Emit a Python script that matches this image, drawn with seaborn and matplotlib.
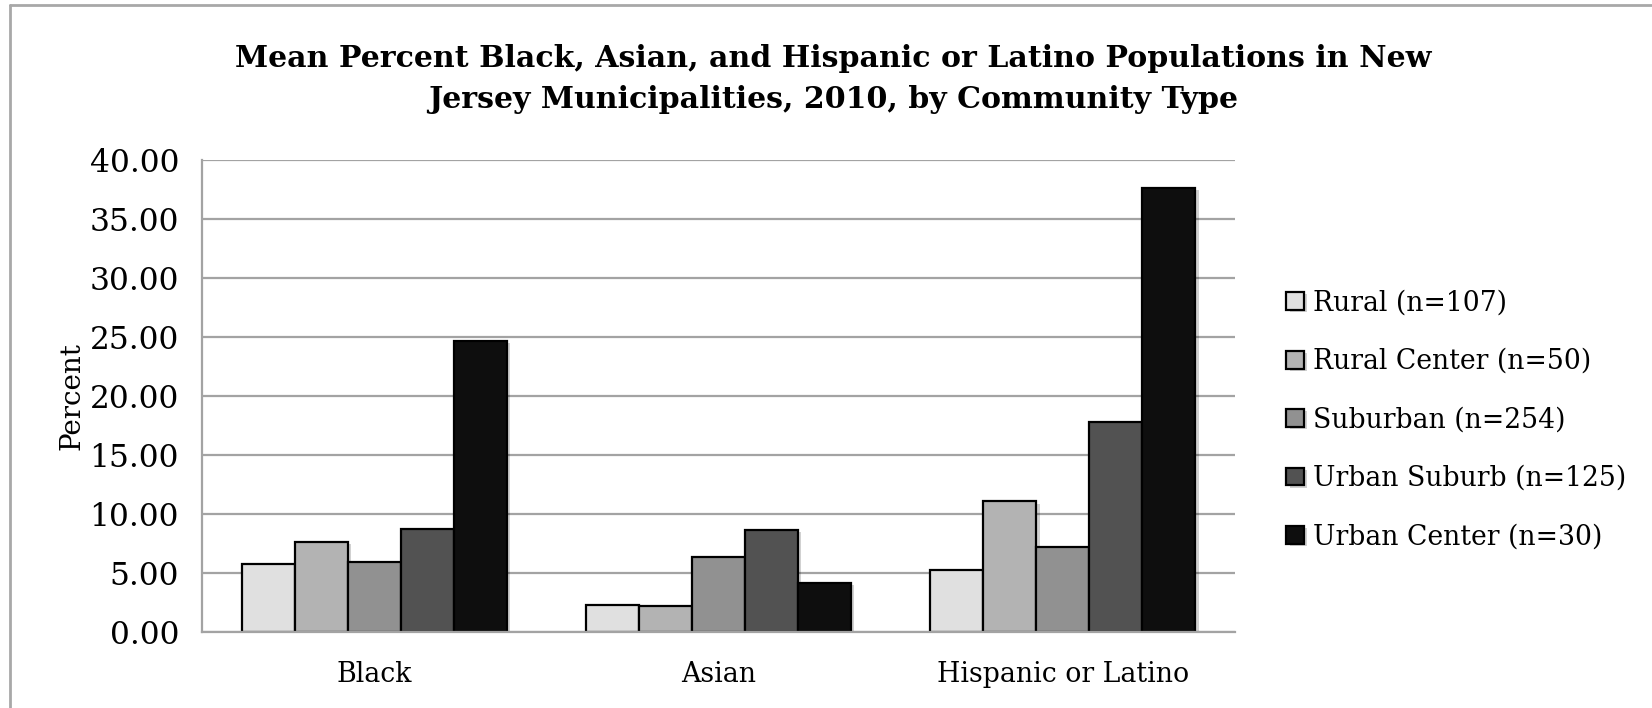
import matplotlib
matplotlib.use("Agg")
import matplotlib.pyplot as plt
import matplotlib.patheffects as pe
from matplotlib.lines import Line2D
import seaborn as sns
import pandas as pd

# Mean percent of each population group, by community type
groups = ["Black", "Asian", "Hispanic or Latino"]
community_types = [
    "Rural (n=107)",
    "Rural Center (n=50)",
    "Suburban (n=254)",
    "Urban Suburb (n=125)",
    "Urban Center (n=30)",
]
rural = [5.70, 2.29, 5.19]
rural_center = [7.59, 2.17, 11.03]
suburban = [5.90, 6.35, 7.14]
urban_suburb = [8.72, 8.64, 17.78]
urban_center = [24.61, 4.12, 37.62]

shades = ["#e0e0e0", "#b3b3b3", "#919191", "#525252", "#0e0e0e"]
y_ticks = [0, 5, 10, 15, 20, 25, 30, 35, 40]

series = [rural, rural_center, suburban, urban_suburb, urban_center]
rows = []
for ctype, vals in zip(community_types, series):
    for g, v in zip(groups, vals):
        rows.append({"Group": g, "Type": ctype, "Percent": v})
df = pd.DataFrame(rows)

sns.set_theme(style="white")
plt.rcParams["font.family"] = ["DejaVu Serif"]
plt.rcParams["text.color"] = "black"
plt.rcParams["axes.labelcolor"] = "black"

W, H = 1652, 708
fig = plt.figure(figsize=(W / 100, H / 100), dpi=100)
fig.patch.set_facecolor("white")
ax = fig.add_axes([202 / W, 1 - 631.7 / H, (1235 - 202) / W, (631.7 - 159.5) / H])

sns.barplot(
    data=df, x="Group", y="Percent", hue="Type",
    order=groups, hue_order=community_types, palette=shades,
    width=0.769, gap=0, errorbar=None, edgecolor="black", linewidth=1.6,
    ax=ax,
)
for bar in ax.patches:
    bar.set_path_effects([
        pe.SimplePatchShadow(offset=(2.5, -1.5), shadow_rgbFace="#000000", alpha=0.18),
        pe.Normal(),
    ])

ax.set_xlim(-0.5, 2.5)
ax.set_ylim(0, 40)
ax.set_yticks(y_ticks)
ax.set_yticklabels([f"{t:.2f}" for t in y_ticks])
ax.yaxis.grid(True, color="#a3a3a3", linewidth=1.6)
ax.set_axisbelow(True)
for side in ["top", "right"]:
    ax.spines[side].set_visible(False)
for side in ["left", "bottom"]:
    ax.spines[side].set_color("#a3a3a3")
    ax.spines[side].set_linewidth(1.6)
ax.tick_params(axis="y", which="major", length=7, width=1.6, color="#a3a3a3",
               labelsize=22.5, pad=9.5, labelcolor="black")
ax.tick_params(axis="x", length=0, labelsize=19.3, pad=21, labelcolor="black")
ax.set_xlabel("")
ax.set_ylabel("Percent", fontsize=20, color="black", labelpad=3)

handles, labels = ax.get_legend_handles_labels()
leg = ax.legend(
    handles, labels, loc="center left",
    bbox_to_anchor=(1273 / W, 1 - 420 / H), bbox_transform=fig.transFigure,
    frameon=False, fontsize=19.2, handlelength=0.65, handleheight=0.65,
    handletextpad=0.35, labelspacing=1.18, borderpad=0,
)
for t in leg.get_texts():
    t.set_color("black")

fig.text(
    833.5 / W, 1 - 79 / H,
    "Mean Percent Black, Asian, and Hispanic or Latino Populations in New\n"
    "Jersey Municipalities, 2010, by Community Type",
    ha="center", va="center", fontsize=21.6, fontweight="bold", linespacing=1.5,
    color="black",
)

# chart-area frame
fig.add_artist(Line2D([10 / W, 10 / W], [0, 1 - 5 / H], color="#a8a8a8", lw=2,
                      transform=fig.transFigure))
fig.add_artist(Line2D([10 / W, 1], [1 - 5 / H, 1 - 5 / H], color="#a8a8a8", lw=2,
                      transform=fig.transFigure))

fig.savefig("out.png", dpi=100, facecolor="white")
